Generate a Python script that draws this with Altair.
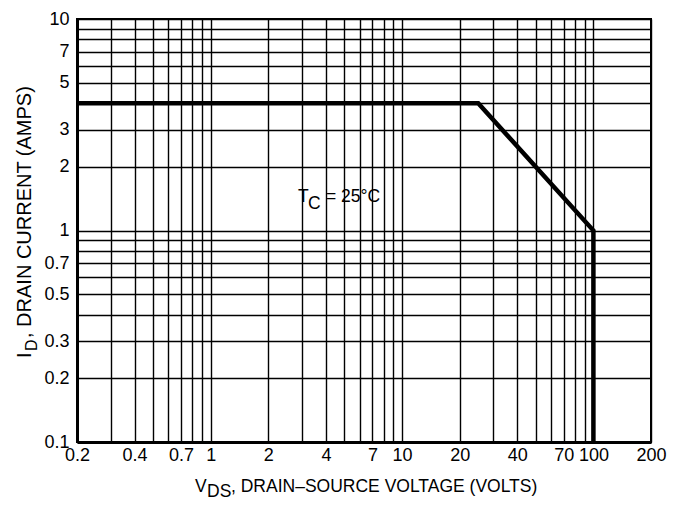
import altair as alt
import pandas as pd

# Safe operating area boundary (V_DS in volts, I_D in amps)
vds = [0.2, 25, 100, 100]
i_d = [4, 4, 1, 0.1]

# Grid lines and the labelled subset of them
x_grid = [0.2, 0.3, 0.4, 0.5, 0.6, 0.7, 0.8, 0.9, 1, 2, 3, 4, 5, 6, 7, 8, 9,
          10, 20, 30, 40, 50, 60, 70, 80, 90, 100, 200]
x_labels = [0.2, 0.4, 0.7, 1, 2, 4, 7, 10, 20, 40, 70, 100, 200]
y_grid = [0.1, 0.2, 0.3, 0.4, 0.5, 0.6, 0.7, 0.8, 0.9, 1, 2, 3, 4, 5, 6, 7, 8, 9, 10]
y_labels = [0.1, 0.2, 0.3, 0.5, 0.7, 1, 2, 3, 5, 7, 10]

FONT = "Liberation Sans"

df = pd.DataFrame({"vds": vds, "id": i_d, "order": list(range(len(vds)))})


def label_expr(vals):
    return f"indexof({vals}, datum.value) >= 0 ? format(datum.value, '~g') : ''"


axis_common = dict(
    grid=True, gridColor="black", gridWidth=1.4, gridOpacity=1,
    ticks=False, tickSize=0, domain=True, domainColor="black", domainWidth=3,
    labelFont=FONT, labelFontSize=18, labelColor="black",
    labelOverlap=False, labelFlush=False, labelBound=False, title=None,
)

line = alt.Chart(df).mark_line(color="black", strokeWidth=4.5, strokeJoin="miter").encode(
    x=alt.X("vds:Q", scale=alt.Scale(type="log", domain=[0.2, 200]),
            axis=alt.Axis(values=x_grid, labelExpr=label_expr(x_labels),
                          labelPadding=4, **axis_common)),
    y=alt.Y("id:Q", scale=alt.Scale(type="log", domain=[0.1, 10]),
            axis=alt.Axis(values=y_grid, labelExpr=label_expr(y_labels),
                          labelPadding=8, **axis_common)),
    order="order:Q",
)

one = alt.Data(values=[{}])


def txt(text, x, y, size, angle=0):
    return alt.Chart(one).mark_text(
        text=text, font=FONT, fontSize=size, color="black", align="left",
        baseline="alphabetic", angle=angle,
    ).encode(x=alt.value(x), y=alt.value(y))


texts = [
    # x axis title with subscript
    txt("V", 118, 473, 17.5),
    txt("DS", 130, 478, 17.5),
    txt(", DRAIN\u2013SOURCE VOLTAGE (VOLTS)", 154, 473, 17.5),
    # y axis title with subscript
    txt("I", -46, 339, 20, 270),
    txt("D", -40, 332, 16, 270),
    txt(", DRAIN CURRENT (AMPS)", -46, 319, 20, 270),
    # annotation
    txt("T", 221, 183, 17.5),
    txt("C", 231, 190, 17.5),
    txt("= 25\u00b0C", 249, 183, 17.5),
]

chart = alt.layer(line, *texts).properties(
    width=574, height=423,
    padding={"left": 69, "top": 11, "right": 19, "bottom": 60},
    autosize=alt.AutoSizeParams(type="none"),
).configure_view(stroke="black", strokeWidth=2)

chart.save("out.html", embed_options={"renderer": "svg", "actions": False})
